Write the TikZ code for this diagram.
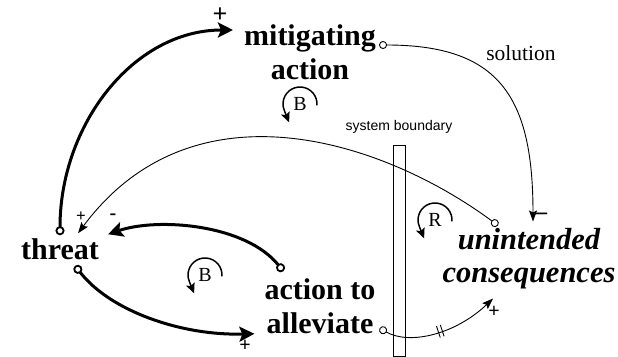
\documentclass[tikz,border=0pt]{standalone}
\usepackage{fontspec}
\setmainfont{Liberation Serif}
\setsansfont{Liberation Sans}
\usetikzlibrary{arrows.meta,positioning,decorations.markings}

\begin{document}
\begin{tikzpicture}[x=1pt,y=-1pt,
  var/.style={font=\fontsize{30}{34}\selectfont\bfseries, align=center, inner sep=0pt},
  strong link/.style={line width=3pt, {Circle[open,length=9pt,line width=1.8pt]}-{Stealth[length=15pt,width=15pt,inset=3pt]}},
  weak link/.style={line width=0.9pt, {Circle[open,length=8pt]}-{Stealth[length=11pt,width=8pt,inset=2pt]}},
  sign/.style={font=\fontsize{20}{20}\selectfont\bfseries, inner sep=0pt},
  loopletter/.style={font=\fontsize{20}{20}\selectfont, inner sep=0pt},
  looparc/.style={line width=1.5pt, -{Stealth[length=10pt,width=9pt,inset=2pt]}}]
\useasboundingbox (0,0) rectangle (618,356);

\node[var] (mit) at (310,52) {mitigating\\action};
\node[var] (threat) at (60,249) {threat};
\node[var] (alle) at (320,306) {action to\\alleviate};
\node[var, font=\fontsize{30.5}{33}\selectfont\bfseries\itshape] (unint) at (529,259) {unintended\\consequences};
\node[font=\fontsize{21.5}{22}\selectfont] (sol) at (521,53) {solution};

% system boundary
\node[draw, line width=0.8pt, minimum width=12pt, minimum height=211pt, inner sep=0pt] (bound) at (399,250.5) {};
\node[font=\sffamily\fontsize{14}{14}\selectfont, above=8pt of bound] (boundlbl) {system boundary};

% links
\draw[strong link] ([yshift=3pt]threat.north) .. controls +(0,-110) and +(-100,0) .. ([xshift=-11pt,yshift=22pt]mit.west);
\draw[weak link] ([xshift=3pt,yshift=7pt]mit.east) .. controls +(120,0) and +(0,-125) .. ([xshift=4pt,yshift=7pt]unint.north);
\draw[weak link] ([xshift=-31pt,yshift=3pt]unint.north) .. controls +(-115,-85) and +(115,-155) .. ([xshift=-21pt,yshift=5pt]threat.north east);
\draw[strong link] ([xshift=19pt,yshift=7pt]alle.north west) .. controls +(-38,-47) and +(50,-17) .. ([xshift=9pt,yshift=4pt]threat.north east);
\draw[strong link] ([xshift=-24pt,yshift=-6pt]threat.south east) .. controls +(35,45) and +(-74,2) .. ([xshift=-10pt]alle.south west);
\draw[weak link, decoration={markings, mark=at position 0.5 with {\draw[-, line width=0.9pt] (-2pt,-6pt) -- (-2pt,6pt) (2pt,-6pt) -- (2pt,6pt);}}, postaction={decorate}]
  ([xshift=4pt,yshift=5.5pt]alle.south east) .. controls +(30,17) and +(-38,36) .. ([xshift=-36pt,yshift=-9pt]unint.south);

% polarities
\node[sign, font=\fontsize{26}{26}\selectfont\bfseries] (p1) at (220,15) {+};
\node[sign, font=\fontsize{24}{24}\selectfont\bfseries] (m2) at (541,216) {–};
\node[sign, font=\fontsize{17}{17}\selectfont\bfseries] (p3) at (81,217) {+};
\node[sign] (m4) at (113,217) {-};
\node[sign] (p5) at (245,346) {+};
\node[sign] (p6) at (494,312) {+};

% loops
\node[loopletter] (b1) at (300,104) {B};
\draw[looparc] ([shift={(-5:17pt)}]b1.center) arc[start angle=-5, end angle=205, radius=17pt] -- ++(-68:12pt);
\node[loopletter] (b2) at (205,275) {B};
\draw[looparc] ([shift={(-5:17pt)}]b2.center) arc[start angle=-5, end angle=205, radius=17pt] -- ++(-68:12pt);
\node[loopletter] (r1) at (435,220) {R};
\draw[looparc] ([shift={(-5:17pt)}]r1.center) arc[start angle=-5, end angle=205, radius=17pt] -- ++(-68:12pt);
\end{tikzpicture}
\end{document}
